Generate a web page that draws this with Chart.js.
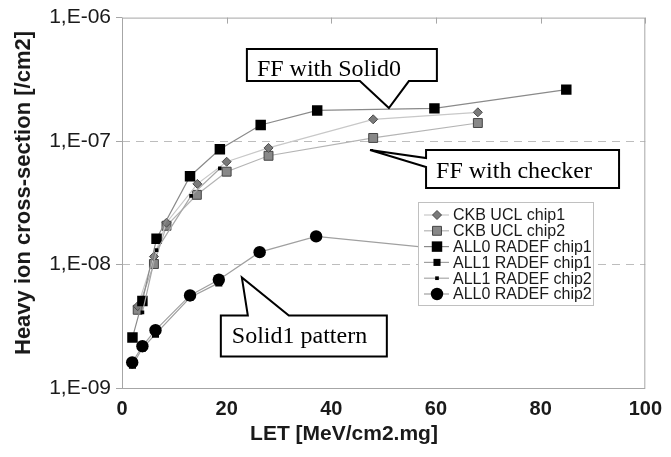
<!DOCTYPE html>
<html>
<head>
<meta charset="utf-8">
<script src="https://cdn.jsdelivr.net/npm/chart.js@4.4.1/dist/chart.umd.min.js"></script>
<style>
  html, body { margin: 0; padding: 0; background: #fff; }
  #wrap { width: 671px; height: 457px; }
</style>
</head>
<body>
<div id="wrap"><canvas id="chart" width="671" height="457"></canvas></div>
<script>
// LET [MeV/cm2.mg] and cross-section [/cm2] per series
const ckbUcl1Let = [3.0, 6.1, 8.5, 14.4, 20.0, 28.0, 48.0, 68.0];
const ckbUcl1Sigma = [4.6e-9, 1.16e-8, 2.18e-8, 4.5e-8, 6.8e-8, 8.8e-8, 1.5e-7, 1.71e-7];

const ckbUcl2Let = [3.0, 6.1, 8.5, 14.3, 20.0, 28.0, 48.0, 68.0];
const ckbUcl2Sigma = [4.3e-9, 1.01e-8, 2.06e-8, 3.67e-8, 5.65e-8, 7.6e-8, 1.06e-7, 1.4e-7];

const all0Chip1Let = [2.0, 3.9, 6.6, 13.0, 18.7, 26.5, 37.3, 59.7, 84.9];
const all0Chip1Sigma = [2.56e-9, 5.06e-9, 1.62e-8, 5.19e-8, 8.57e-8, 1.35e-7, 1.77e-7, 1.84e-7, 2.61e-7];

const all1Chip1Let = [2.0, 3.9, 6.4, 13.0, 18.5];
const all1Chip1Sigma = [1.53e-9, 2.1e-9, 2.73e-9, 5.4e-9, 7.1e-9];

const all1Chip2Let = [3.9, 6.6, 13.2, 18.7];
const all1Chip2Sigma = [4.1e-9, 1.31e-8, 3.6e-8, 6.0e-8];

const all0Chip2Let = [1.95, 3.9, 6.4, 13.0, 18.5, 26.3, 37.1, 60.0];
const all0Chip2Sigma = [1.61e-9, 2.18e-9, 2.94e-9, 5.62e-9, 7.53e-9, 1.26e-8, 1.69e-8, 1.35e-8];

const seriesNames = ['CKB UCL chip1', 'CKB UCL chip2', 'ALL0 RADEF chip1', 'ALL1 RADEF chip1', 'ALL1 RADEF chip2', 'ALL0 RADEF chip2'];

const xTicks = [0, 20, 40, 60, 80, 100];
const yTicks = [1e-9, 1e-8, 1e-7, 1e-6];
const yTickLabels = ['1,E-09', '1,E-08', '1,E-07', '1,E-06'];

const xTitle = 'LET [MeV/cm2.mg]';
const yTitle = 'Heavy ion cross-section [/cm2]';

// callout tips anchored in data space (LET, sigma)
const calloutTexts = ['FF with Solid0', 'FF with checker', 'Solid1 pattern'];
const calloutTipLet = [51.0, 47.4, 22.9];
const calloutTipSigma = [1.85e-7, 8.46e-8, 7.85e-9];

const SANS = '"Liberation Sans", Arial, sans-serif';
const SERIF = '"Liberation Serif", "Times New Roman", serif';
const TEXT = '#1a1a1a';
const AXIS = '#a6a6a6';

const pts = (xs, ys) => xs.map((x, i) => ({ x: x, y: ys[i] }));

const styles = [
  { pointStyle: 'rectRot', pointRadius: 4.5, pointBackgroundColor: '#7a7a7a', pointBorderColor: '#4a4a4a', pointBorderWidth: 1, borderColor: '#c8c8c8', order: 3 },
  { pointStyle: 'rect', pointRadius: 6.3, pointBackgroundColor: '#888888', pointBorderColor: '#444', pointBorderWidth: 1, borderColor: '#b4b4b4', order: 4 },
  { pointStyle: 'rect', pointRadius: 7.4, pointBackgroundColor: '#000', pointBorderColor: '#000', pointBorderWidth: 0, borderColor: '#8a8a8a', order: 2 },
  { pointStyle: 'rect', pointRadius: 5, pointBackgroundColor: '#000', pointBorderColor: '#000', pointBorderWidth: 0, borderColor: '#a0a0a0', order: 1 },
  { pointStyle: 'rect', pointRadius: 2.6, pointBackgroundColor: '#000', pointBorderColor: '#000', pointBorderWidth: 0, borderColor: '#a8a8a8', order: 1 },
  { pointStyle: 'circle', pointRadius: 6.2, pointBackgroundColor: '#000', pointBorderColor: '#000', pointBorderWidth: 0, borderColor: '#a0a0a0', order: 0 }
];

const seriesData = [
  pts(ckbUcl1Let, ckbUcl1Sigma),
  pts(ckbUcl2Let, ckbUcl2Sigma),
  pts(all0Chip1Let, all0Chip1Sigma),
  pts(all1Chip1Let, all1Chip1Sigma),
  pts(all1Chip2Let, all1Chip2Sigma),
  pts(all0Chip2Let, all0Chip2Sigma)
];

const datasets = seriesNames.map((name, i) => Object.assign({
  label: name,
  data: seriesData[i],
  showLine: true,
  borderWidth: 1.2,
  tension: 0
}, styles[i]));

// plot frame and the small ticks along the top edge
const framePlugin = {
  id: 'frame',
  beforeDatasetsDraw(chart) {
    const { ctx, chartArea: a, scales } = chart;
    ctx.save();
    ctx.strokeStyle = AXIS;
    ctx.lineWidth = 1;
    ctx.strokeRect(a.left + 0.5, a.top + 0.5, a.right - a.left - 1, a.bottom - a.top);
    ctx.beginPath();
    xTicks.forEach(v => {
      const px = Math.round(scales.x.getPixelForValue(v)) + 0.5;
      ctx.moveTo(px, a.top);
      ctx.lineTo(px, a.top + 6);
    });
    ctx.stroke();
    ctx.restore();
  }
};

// axis titles, legend box and callouts
const overlayPlugin = {
  id: 'overlay',
  afterDatasetsDraw(chart) {
    const { ctx, scales } = chart;
    ctx.save();

    // axis titles
    ctx.fillStyle = TEXT;
    ctx.font = 'bold 21px ' + SANS;
    ctx.textAlign = 'center';
    ctx.textBaseline = 'alphabetic';
    ctx.fillText(xTitle, 344, 440);
    ctx.save();
    ctx.translate(30, 193);
    ctx.rotate(-Math.PI / 2);
    ctx.font = 'bold 22px ' + SANS;
    ctx.fillText(yTitle, 0, 0);
    ctx.restore();

    // legend
    const lg = { left: 418, top: 202, right: 593, bottom: 305 };
    ctx.fillStyle = '#fff';
    ctx.fillRect(lg.left, lg.top, lg.right - lg.left, lg.bottom - lg.top);
    ctx.strokeStyle = '#c0c0c0';
    ctx.lineWidth = 1;
    ctx.strokeRect(lg.left + 0.5, lg.top + 0.5, lg.right - lg.left, lg.bottom - lg.top);
    ctx.font = '16px ' + SANS;
    ctx.textAlign = 'left';
    ctx.textBaseline = 'middle';
    datasets.forEach((ds, i) => {
      const y = 215 + i * 15.8;
      ctx.strokeStyle = ds.borderColor;
      ctx.lineWidth = 1.2;
      ctx.beginPath();
      ctx.moveTo(424, y);
      ctx.lineTo(449, y);
      ctx.stroke();
      ctx.fillStyle = ds.pointBackgroundColor;
      ctx.strokeStyle = ds.pointBorderColor;
      ctx.lineWidth = ds.pointBorderWidth;
      Chart.helpers.drawPoint(ctx, {
        pointStyle: ds.pointStyle,
        radius: ds.pointRadius,
        borderWidth: ds.pointBorderWidth,
        rotation: 0
      }, 437, y);
      ctx.fillStyle = TEXT;
      ctx.fillText(ds.label, 453, y + 1);
    });

    // callouts
    const tips = calloutTexts.map((t, i) => ({
      x: scales.x.getPixelForValue(calloutTipLet[i]),
      y: scales.y.getPixelForValue(calloutTipSigma[i])
    }));
    ctx.lineWidth = 2;
    ctx.strokeStyle = '#000';
    ctx.lineJoin = 'miter';

    const shape = (pathFn) => {
      ctx.beginPath();
      pathFn();
      ctx.closePath();
      ctx.fillStyle = '#fff';
      ctx.fill();
      ctx.stroke();
    };

    // FF with Solid0: box above, pointer down
    let p = tips[0];
    let L = p.x - 142, R = p.x + 48, T = p.y - 59, B = p.y - 27;
    shape(() => {
      ctx.moveTo(L, T); ctx.lineTo(R, T); ctx.lineTo(R, B);
      ctx.lineTo(p.x + 20, B); ctx.lineTo(p.x, p.y); ctx.lineTo(p.x - 29, B);
      ctx.lineTo(L, B);
    });
    ctx.fillStyle = '#000';
    ctx.font = '24px ' + SERIF;
    ctx.textAlign = 'left';
    ctx.textBaseline = 'alphabetic';
    ctx.fillText(calloutTexts[0], L + 10, T + 27);

    // FF with checker: box right, pointer left
    p = tips[1];
    L = p.x + 56; R = p.x + 249; T = p.y; B = p.y + 38;
    shape(() => {
      ctx.moveTo(L, T); ctx.lineTo(R, T); ctx.lineTo(R, B); ctx.lineTo(L, B);
      ctx.lineTo(L, p.y + 17); ctx.lineTo(p.x, p.y); ctx.lineTo(L, p.y + 8);
    });
    ctx.fillStyle = '#000';
    ctx.fillText(calloutTexts[1], L + 10, T + 28);

    // Solid1 pattern: box below, pointer up
    p = tips[2];
    L = p.x - 21; R = p.x + 145; T = p.y + 38; B = p.y + 79;
    shape(() => {
      ctx.moveTo(L, T); ctx.lineTo(p.x + 6, T); ctx.lineTo(p.x, p.y);
      ctx.lineTo(p.x + 47, T); ctx.lineTo(R, T); ctx.lineTo(R, B); ctx.lineTo(L, B);
    });
    ctx.fillStyle = '#000';
    ctx.fillText(calloutTexts[2], L + 11, T + 27);

    ctx.restore();
  }
};

const chart = new Chart(document.getElementById('chart'), {
  type: 'scatter',
  data: { datasets: datasets },
  options: {
    responsive: false,
    animation: false,
    devicePixelRatio: 1,
    layout: { padding: { left: 0, top: 16, right: 20, bottom: 0 } },
    plugins: {
      legend: { display: false },
      tooltip: { enabled: false }
    },
    scales: {
      x: {
        type: 'linear',
        min: 0,
        max: 100,
        afterBuildTicks: s => { s.ticks = xTicks.map(v => ({ value: v })); },
        afterFit: s => { s.height = 69; },
        ticks: {
          autoSkip: false,
          maxRotation: 0,
          padding: 9,
          color: TEXT,
          font: { family: SANS, size: 20, weight: 'bold' }
        },
        grid: { drawOnChartArea: false, drawTicks: false },
        border: { display: false }
      },
      y: {
        type: 'logarithmic',
        min: 1e-9,
        max: 1e-6,
        afterBuildTicks: s => { s.ticks = yTicks.map(v => ({ value: v })); },
        afterFit: s => { s.width = 122; },
        ticks: {
          autoSkip: false,
          padding: 5,
          color: TEXT,
          font: { family: SANS, size: 21 },
          callback: (v) => {
            const i = yTicks.findIndex(t => Math.abs(Math.log10(t) - Math.log10(v)) < 1e-6);
            return i >= 0 ? yTickLabels[i] : '';
          }
        },
        grid: {
          color: c => (c.tick && c.tick.value > 1.5e-9 && c.tick.value < 5e-7) ? '#bdbdbd' : 'rgba(0,0,0,0)',
          tickColor: AXIS,
          tickLength: 6,
          lineWidth: 1
        },
        border: { display: false, dash: [8, 6] }
      }
    }
  },
  plugins: [framePlugin, overlayPlugin]
});
</script>
</body>
</html>
